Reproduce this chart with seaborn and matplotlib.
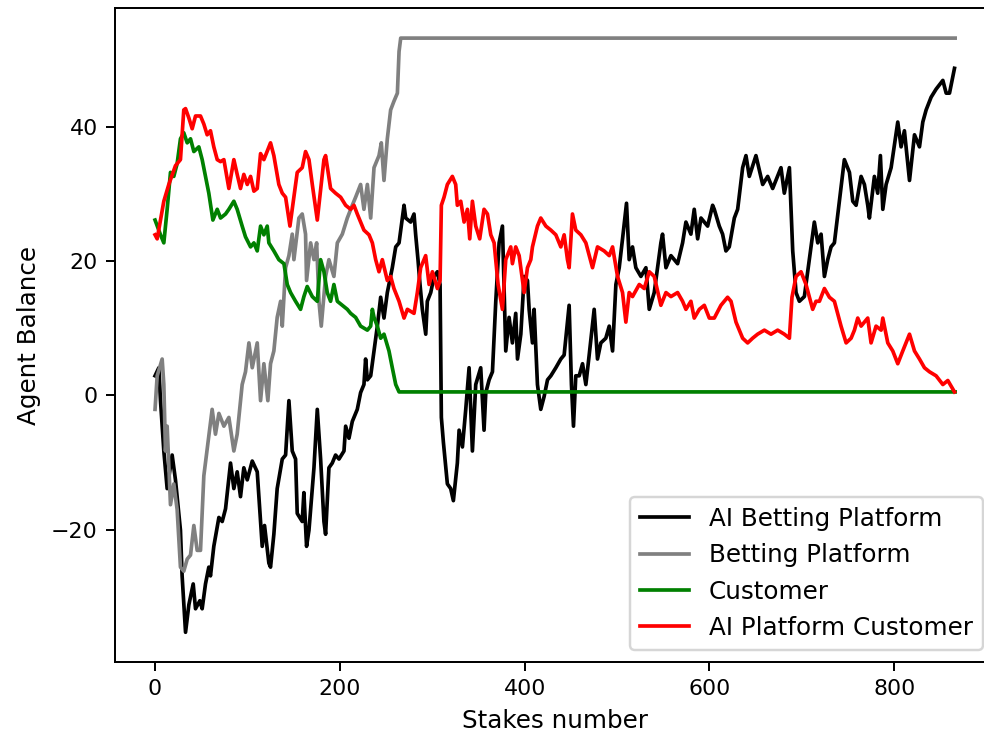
import matplotlib
matplotlib.use("Agg")
import matplotlib.pyplot as plt
import seaborn as sns

# values: (stake number, balance)
ai_platform_x = [0, 4.1, 5.9, 9.5, 13.1, 18.5, 22.1, 25.7, 27.5, 29.3, 33.0, 36.6, 41.3, 43.8, 48.5, 51.0,
                 54.6, 58.2, 60.0, 63.6, 69.1, 72.7, 76.3, 81.7, 85.3, 88.9, 92.5, 96.1, 99.8, 105.2, 110.6,
                 116.0, 118.5, 123.2, 125.0, 128.6, 132.2, 137.7, 141.3, 144.9, 148.5, 152.1, 153.9, 159.3,
                 161.1, 164.0, 166.6, 172.0, 175.6, 179.2, 182.8, 184.6, 188.2, 191.8, 195.4, 199.1, 204.5,
                 206.3, 209.9, 213.5, 218.9, 222.5, 226.1, 227.9, 229.8, 233.4, 237.0, 240.6, 244.2, 247.8,
                 251.4, 256.8, 260.5, 264.1, 269.5, 271.3, 276.7, 280.3, 282.1, 284.6, 286.8, 289.3, 293.0,
                 294.7, 298.4, 302.0, 305.6, 308.5, 309.9, 312.1, 316.4, 320.0, 322.9, 327.2, 329.1, 332.7,
                 336.3, 339.9, 343.5, 347.1, 352.5, 356.1, 358.0, 361.6, 365.2, 368.8, 372.4, 376.0, 379.6,
                 383.2, 386.8, 390.4, 392.3, 395.9, 399.5, 403.1, 404.9, 408.5, 410.3, 413.9, 417.5, 421.1,
                 424.8, 428.4, 433.8, 439.2, 442.8, 448.2, 450.7, 452.9, 455.4, 459.1, 462.7, 466.3, 469.9,
                 475.3, 478.9, 482.5, 487.9, 491.6, 495.2, 498.8, 502.4, 506.0, 510.3, 513.2, 516.8, 520.4,
                 525.9, 531.3, 534.9, 540.3, 547.5, 549.3, 553.0, 558.4, 565.6, 571.0, 574.6, 580.0, 583.6,
                 587.3, 590.9, 598.1, 603.5, 605.3, 610.7, 614.3, 617.9, 621.5, 627.0, 630.6, 636.0, 639.6,
                 643.2, 650.4, 657.7, 663.1, 668.5, 677.5, 681.1, 686.6, 690.2, 693.8, 697.4, 702.8, 708.2,
                 713.6, 717.3, 720.9, 724.5, 728.1, 731.7, 735.3, 740.7, 746.1, 751.6, 755.2, 758.8, 764.2,
                 767.8, 771.4, 773.2, 778.6, 782.2, 785.1, 787.7, 791.3, 796.7, 803.9, 807.5, 811.1, 816.6,
                 822.0, 827.4, 831.0, 834.6, 840.0, 845.4, 852.7, 856.3, 859.9, 865.3]
ai_platform_y = [2.9, 4.1, -0.8, -8.3, -13.9, -8.9, -12.6, -17.6, -20.1, -26.9, -35.3, -31.2, -28.1, -31.8,
                 -30.6, -31.8, -28.1, -25.6, -26.9, -22.5, -18.2, -18.8, -16.9, -10.1, -13.9, -11.4, -15.1,
                 -10.8, -12.6, -9.8, -11.4, -22.5, -19.4, -25.0, -25.6, -20.7, -13.9, -9.5, -8.9, -0.8, -8.3,
                 -9.5, -17.6, -18.8, -14.5, -22.5, -20.1, -10.8, -2.1, -9.5, -18.8, -20.7, -10.8, -10.1, -8.9,
                 -9.5, -8.3, -4.6, -6.4, -3.9, -2.1, 0.4, 1.6, 5.4, 2.3, 2.9, 6.6, 10.3, 14.6, 11.5, 15.3, 19.0,
                 22.1, 22.7, 28.3, 26.4, 25.8, 27.0, 23.9, 20.2, 16.5, 12.8, 9.1, 14.0, 15.3, 17.7, 18.4, 16.5,
                 -3.3, -7.0, -13.2, -13.9, -15.7, -10.1, -5.2, -7.7, -2.1, 4.1, -8.3, 1.6, 4.1, -5.2, 0.4, 2.3,
                 3.5, 14.0, 22.7, 25.2, 6.6, 11.6, 7.8, 12.2, 5.4, 9.1, 17.7, 17.1, 12.8, 7.8, 12.8, 1.6, -2.1,
                 -0.2, 2.3, 2.9, 4.1, 5.4, 6.0, 13.4, 1.6, -4.6, 2.9, 2.9, 4.7, 1.6, 6.0, 12.8, 5.4, 7.8, 8.5,
                 10.3, 6.6, 16.5, 19.0, 23.3, 28.6, 20.2, 22.1, 19.0, 17.7, 19.0, 12.8, 15.3, 22.7, 24.0, 19.0,
                 20.8, 19.6, 22.7, 25.8, 24.0, 27.7, 23.3, 26.4, 25.2, 28.3, 27.7, 25.2, 24.0, 21.5, 22.1, 26.4,
                 27.7, 33.9, 35.7, 32.6, 35.7, 31.4, 32.6, 30.8, 33.9, 30.1, 33.9, 21.5, 15.3, 14.0, 14.7, 20.2,
                 25.8, 22.7, 24.0, 17.7, 20.2, 22.1, 22.7, 28.9, 35.1, 33.2, 28.9, 28.3, 32.6, 31.4, 28.3, 26.4,
                 32.6, 30.1, 35.7, 27.7, 31.4, 33.9, 40.7, 37.0, 39.4, 32.0, 38.8, 37.0, 40.7, 42.5, 44.4, 45.6,
                 46.9, 45.0, 45.0, 48.7]

platform_x = [0, 2.3, 7.7, 9.5, 11.3, 13.1, 16.7, 20.3, 23.9, 27.5, 31.1, 34.8, 38.4, 42.0, 45.6, 49.2, 52.8,
              61.8, 65.4, 69.1, 74.5, 79.9, 85.3, 88.9, 94.3, 97.9, 101.6, 105.2, 110.6, 114.2, 117.8, 122.1,
              125.0, 128.6, 132.2, 135.9, 137.7, 141.3, 144.9, 148.5, 150.3, 155.7, 159.3, 162.9, 164.0, 168.4,
              172.0, 174.9, 177.4, 179.9, 184.6, 188.2, 193.6, 197.3, 202.7, 208.1, 213.5, 217.1, 222.5, 226.1,
              229.8, 233.4, 237.0, 242.4, 244.9, 247.8, 251.4, 255.0, 258.6, 262.3, 264.1, 265.9, 866]
platform_y = [-2.1, 2.9, 5.4, 1.6, -8.3, -4.6, -16.3, -13.2, -17.0, -25.6, -26.2, -24.4, -23.8, -19.4, -23.1,
              -23.1, -12.0, -2.1, -5.8, -2.7, -4.6, -3.3, -8.3, -5.8, 1.6, 3.5, 7.8, 4.1, 7.8, -0.8, 4.7, -0.8,
              4.7, 6.6, 11.6, 14.0, 10.3, 19.0, 20.8, 24.0, 20.2, 26.4, 27.0, 24.0, 17.1, 22.7, 20.2, 22.7, 14.0,
              10.3, 17.7, 20.2, 17.7, 22.7, 24.0, 26.4, 28.3, 29.5, 31.4, 27.7, 31.4, 26.4, 33.9, 35.7, 37.6,
              32.0, 38.2, 42.5, 43.8, 45.0, 51.2, 53.2, 53.2]

customer_x = [0, 5.9, 9.5, 13.1, 16.7, 20.3, 23.9, 27.5, 31.1, 34.8, 38.4, 42.0, 47.4, 51.0, 54.6, 58.2, 62.6,
              67.3, 70.9, 76.3, 79.9, 85.3, 88.9, 94.3, 97.9, 103.4, 107.0, 110.6, 114.2, 117.8, 121.4, 123.2,
              128.6, 134.0, 139.5, 143.1, 146.7, 152.1, 157.5, 161.1, 164.7, 170.2, 175.6, 179.2, 182.8, 186.4,
              190.0, 193.6, 197.3, 202.7, 208.1, 211.7, 217.1, 222.5, 229.8, 233.4, 235.2, 237.0, 240.6, 244.2,
              247.8, 253.2, 256.8, 260.5, 264.1, 866]
customer_y = [26.1, 23.9, 22.7, 27.7, 33.2, 32.6, 34.5, 38.2, 39.1, 37.6, 38.2, 36.3, 37.0, 35.1, 32.6, 30.1,
              26.1, 27.7, 26.4, 27.0, 27.7, 28.9, 27.7, 25.2, 23.6, 22.1, 22.7, 21.5, 25.2, 23.9, 25.2, 22.7,
              21.5, 20.2, 19.6, 16.5, 15.3, 14.0, 12.8, 14.7, 16.2, 14.7, 14.0, 20.2, 18.4, 15.3, 14.0, 16.5,
              14.0, 13.4, 12.8, 12.2, 11.6, 10.3, 9.7, 10.3, 12.8, 11.6, 10.3, 8.5, 9.1, 6.6, 4.1, 1.6, 0.5, 0.5]

ai_customer_x = [0, 2.3, 9.5, 14.9, 22.1, 27.5, 31.1, 33.0, 36.6, 40.2, 43.8, 49.2, 52.8, 56.4, 60.0, 63.6, 67.3,
                 70.9, 74.5, 79.9, 85.3, 88.9, 92.5, 96.1, 99.8, 103.4, 107.0, 110.6, 114.2, 117.8, 125.0, 128.6,
                 134.0, 137.7, 141.3, 146.0, 148.5, 153.9, 159.3, 162.9, 166.6, 170.2, 175.6, 182.8, 184.6, 190.0,
                 195.4, 200.9, 206.3, 211.7, 215.3, 218.9, 226.1, 231.6, 235.2, 238.8, 242.4, 246.0, 251.4, 255.0,
                 258.6, 264.1, 269.5, 273.1, 280.3, 283.9, 287.5, 292.9, 296.6, 300.2, 305.6, 308.5, 309.9, 312.8,
                 316.4, 321.8, 325.4, 327.2, 330.9, 334.5, 338.1, 340.6, 343.5, 347.1, 351.4, 356.1, 359.8, 363.4,
                 367.0, 371.3, 376.0, 379.6, 385.0, 386.8, 390.4, 394.1, 399.5, 403.1, 406.7, 408.5, 413.9, 417.5,
                 423.0, 428.4, 433.8, 439.2, 442.8, 446.4, 448.2, 451.8, 455.4, 460.9, 466.3, 473.5, 478.9, 486.1,
                 491.6, 495.2, 500.6, 506.0, 509.6, 513.2, 516.8, 524.1, 529.5, 534.9, 540.3, 547.5, 553.0, 558.4,
                 565.6, 571.0, 574.6, 580.0, 583.6, 589.1, 594.5, 599.9, 605.3, 612.5, 619.7, 623.4, 628.8, 636.0,
                 641.4, 646.8, 652.2, 659.5, 666.7, 673.9, 681.1, 686.6, 689.4, 693.8, 699.2, 704.6, 711.8, 715.4,
                 719.1, 724.5, 729.9, 735.3, 742.5, 748.0, 753.4, 757.0, 760.6, 764.2, 771.4, 775.0, 780.4, 785.9,
                 787.7, 793.1, 798.5, 803.9, 809.3, 816.6, 822.0, 827.4, 832.8, 838.2, 845.4, 852.7, 858.1, 865.3]
ai_customer_y = [23.9, 23.3, 28.9, 31.4, 34.2, 35.1, 42.5, 42.7, 41.3, 39.7, 41.6, 41.6, 40.4, 38.8, 39.4, 37.0,
                 35.1, 34.8, 35.1, 30.8, 35.1, 32.9, 30.8, 32.9, 31.4, 32.6, 30.4, 30.8, 36.0, 35.1, 37.6, 35.7,
                 31.4, 30.1, 29.5, 25.2, 27.7, 33.2, 33.9, 36.3, 35.1, 31.4, 26.1, 35.1, 35.7, 30.8, 30.1, 29.5,
                 28.3, 27.7, 28.3, 27.0, 24.6, 23.9, 22.7, 20.2, 18.4, 20.2, 17.1, 17.7, 15.9, 14.0, 11.5, 12.8,
                 12.2, 15.3, 19.0, 20.8, 16.5, 18.4, 15.9, 17.1, 28.3, 29.5, 31.4, 32.6, 31.4, 28.3, 28.9, 25.8,
                 27.7, 23.3, 28.9, 25.2, 23.3, 27.7, 27.0, 23.9, 22.7, 16.5, 12.8, 20.2, 22.1, 19.6, 22.1, 20.8,
                 15.3, 19.0, 20.2, 22.1, 25.2, 26.4, 25.2, 24.6, 23.9, 22.1, 23.9, 20.2, 19.0, 27.0, 24.6, 23.9,
                 22.7, 19.0, 22.1, 21.5, 20.8, 22.1, 17.7, 15.3, 10.9, 15.3, 14.7, 16.5, 15.9, 18.4, 17.7, 13.4,
                 15.3, 14.7, 15.3, 14.0, 12.8, 14.0, 11.5, 12.8, 13.4, 11.5, 11.5, 13.4, 14.6, 14.0, 10.9, 8.5,
                 7.8, 8.5, 9.1, 9.7, 9.1, 9.7, 9.1, 8.5, 14.6, 17.7, 18.4, 16.5, 12.8, 14.0, 14.0, 15.9, 14.6,
                 14.0, 10.3, 7.8, 8.5, 9.7, 11.5, 10.3, 11.5, 7.8, 10.3, 9.7, 11.5, 7.8, 6.6, 4.7, 6.6, 9.1, 6.6,
                 5.4, 4.1, 3.5, 2.9, 1.6, 2.2, 0.5]

series = [
    ("AI Betting Platform", ai_platform_x, ai_platform_y, "black"),
    ("Betting Platform", platform_x, platform_y, "grey"),
    ("Customer", customer_x, customer_y, "green"),
    ("AI Platform Customer", ai_customer_x, ai_customer_y, "red"),
]

plt.rcParams["xtick.labelsize"] = 9
plt.rcParams["ytick.labelsize"] = 9

# 177 dpi keeps the 984x738 size while matching the reference text scale
fig, ax = plt.subplots(figsize=(5.56, 4.17), dpi=177)
ax.set_position([0.1169, 0.103, 0.8943, 0.8855])

for name, xs, ys, col in series:
    sns.lineplot(x=xs, y=ys, color=col, label=name, sort=False, estimator=None, linewidth=1.5, ax=ax)

ax.set_xlabel("Stakes number")
ax.set_ylabel("Agent Balance")
ax.legend(loc="lower right")

fig.savefig("out.png", dpi=177)
